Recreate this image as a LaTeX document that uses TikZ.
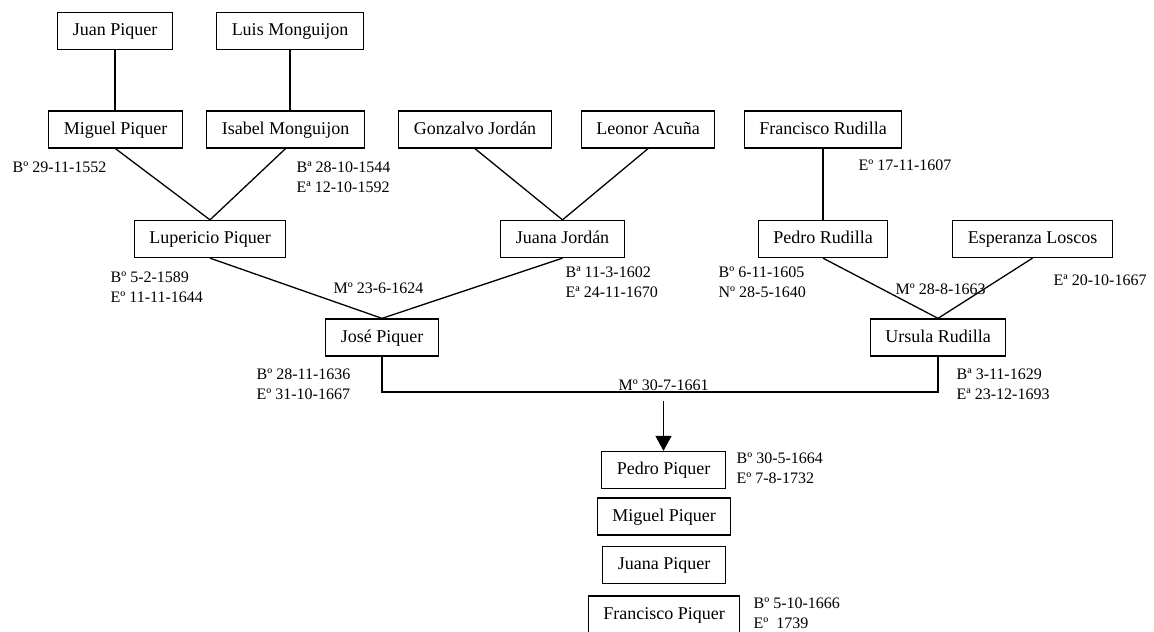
\documentclass[tikz,border=0pt]{standalone}
\usepackage{fontspec}
\setmainfont{Liberation Serif}
\usetikzlibrary{arrows.meta}

\begin{document}
\begin{tikzpicture}[x=0.5pt,y=-0.5pt,line width=0.65pt,>={Triangle[width=8pt,length=7.5pt]},
    persona/.style={draw,minimum height=18.5pt,inner xsep=7.5pt,text height=6.6pt,text depth=1.9pt,font=\fontsize{9}{11}\selectfont},
    fecha/.style={inner sep=0pt,align=left,anchor=west,font=\fontsize{8}{10}\selectfont}]
    \useasboundingbox (0,0) rectangle (1154,631);
    % bisabuelos
    \node[persona] (juan) at (115,31) {Juan Piquer};
    \node[persona] (luis) at (290,31) {Luis Monguijon};
    % abuelos
    \node[persona] (miguel) at (115.5,129.5) {Miguel Piquer};
    \node[persona] (isabel) at (285.5,129.5) {Isabel Monguijon};
    \node[persona] (gonzalvo) at (475,129.5) {Gonzalvo Jordán};
    \node[persona] (leonor) at (648,129.5) {Leonor Acuña};
    \node[persona] (franciscoR) at (823,129.5) {Francisco Rudilla};
    % padres
    \node[persona] (lupercio) at (210,239) {Lupericio Piquer};
    \node[persona] (juana) at (562.5,239) {Juana Jordán};
    \node[persona] (pedroR) at (823,239) {Pedro Rudilla};
    \node[persona] (esperanza) at (1032.5,239) {Esperanza Loscos};
    \node[persona] (jose) at (382,337.5) {José Piquer};
    \node[persona] (ursula) at (938,337.5) {Ursula Rudilla};
    % hijos
    \node[persona] (pedroP) at (663.5,470) {Pedro Piquer};
    \node[persona] (miguelP) at (664,516.5) {Miguel Piquer};
    \node[persona] (juanaP) at (664,565) {Juana Piquer};
    \node[persona] (franciscoP) at (664,614.5) {Francisco Piquer};

    \draw (juan.south) -- (miguel.north -| juan.south);
    \draw (luis.south) -- (isabel.north -| luis.south);
    \draw (franciscoR.south) -- (pedroR.north);
    \draw (miguel.south) -- (lupercio.north) -- (isabel.south);
    \draw (gonzalvo.south) -- (juana.north) -- (leonor.south);
    \draw (lupercio.south) -- (jose.north) -- (juana.south);
    \draw (pedroR.south) -- (ursula.north) -- (esperanza.south);
    \coordinate (boda) at (660,392);
    \coordinate (hijos) at (663.5,401);
    \draw (jose.south) |- (boda) -| (ursula.south);
    \draw[->] (hijos) -- (pedroP.north);

    % fechas
    \node[fecha] (fmiguel) at (12,167) {Bº 29-11-1552};
    \node[fecha] (fisabel) at (296,177) {Bª 28-10-1544\\Eª 12-10-1592};
    \node[fecha] (ffrancisco) at (858,165) {Eº 17-11-1607};
    \node[fecha] (flupercio) at (110,287) {Bº 5-2-1589\\Eº 11-11-1644};
    \node[fecha] (fjuana) at (565,282) {Bª 11-3-1602\\Eª 24-11-1670};
    \node[fecha] (fpedroR) at (718,282) {Bº 6-11-1605\\Nº 28-5-1640};
    \node[fecha] (fesperanza) at (1053,280) {Eª 20-10-1667};
    \node[fecha] (boda1) at (333,288) {Mº 23-6-1624};
    \node[fecha] (boda2) at (895,289) {Mº 28-8-1663};
    \node[fecha] (fjose) at (256,384.5) {Bº 28-11-1636\\Eº 31-10-1667};
    \node[fecha] (fursula) at (956,384.5) {Bª 3-11-1629\\Eª 23-12-1693};
    \node[fecha] (boda3) at (618,385) {Mº 30-7-1661};
    \node[fecha] (fpedroP) at (736,468) {Bº 30-5-1664\\Eº 7-8-1732};
    \node[fecha] (ffranciscoP) at (753,613) {Bº 5-10-1666\\Eº\ \ 1739};
\end{tikzpicture}
\end{document}
